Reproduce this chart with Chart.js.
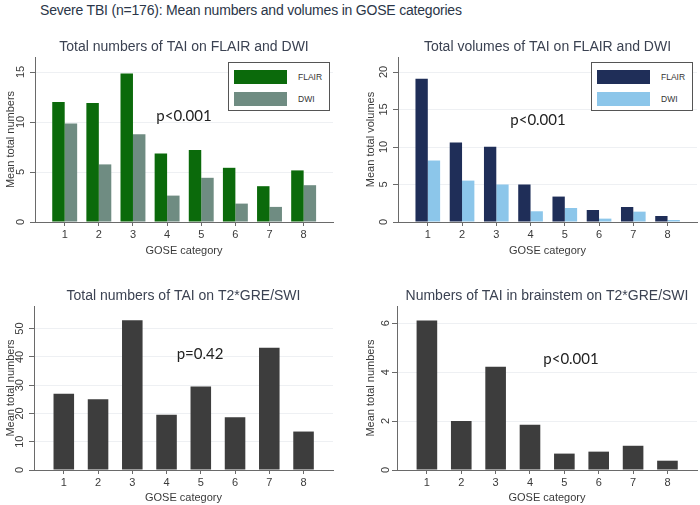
<!DOCTYPE html>
<html>
<head>
<meta charset="utf-8">
<script src="https://cdn.jsdelivr.net/npm/chart.js@4/dist/chart.umd.min.js"></script>
<style>
  body { margin: 0; background: #fff; }
  #wrap { position: relative; width: 700px; height: 505px; overflow: hidden; font-family: "Liberation Sans", Arial, sans-serif; }
  .cv { position: absolute; }
  #main { position: absolute; left: 40px; top: 2px; font-size: 14px; letter-spacing: -0.2px; color: #2b3648; white-space: nowrap; }
  .pv { position: absolute; font-family: Lato, sans-serif; font-size: 15px; color: #222; transform: translate(-50%, -50%); white-space: nowrap; }
  .lg { position: absolute; border: 1px solid #555; background: #fff; box-sizing: border-box; width: 102px; height: 49px; }
  .sw { position: absolute; left: 5px; width: 53px; height: 13.5px; }
  .lt { position: absolute; left: 69px; font-size: 8.5px; color: #333; transform: translateY(-50%); }
</style>
</head>
<body>
<div id="wrap">
  <div id="main">Severe TBI (n=176): Mean numbers and volumes in GOSE categories</div>
  <canvas id="c1" class="cv" style="left:0;top:30px"></canvas>
  <canvas id="c2" class="cv" style="left:350px;top:30px"></canvas>
  <canvas id="c3" class="cv" style="left:0;top:270px"></canvas>
  <canvas id="c4" class="cv" style="left:350px;top:270px"></canvas>
  <div class="pv" style="left:184px;top:115px">p&lt;0.001</div>
  <div class="pv" style="left:538px;top:119px">p&lt;0.001</div>
  <div class="pv" style="left:200px;top:353px">p=0.42</div>
  <div class="pv" style="left:571px;top:358px">p&lt;0.001</div>
  <div id="lg1" class="lg" style="left:228px;top:62px"></div>
  <div id="lg2" class="lg" style="left:591px;top:62px"></div>
</div>
<script>
// GOSE categories
let gose = [1, 2, 3, 4, 5, 6, 7, 8];

// total numbers of TAI, FLAIR / DWI
let numFlair = [12.0, 11.9, 14.85, 6.86, 7.2, 5.42, 3.58, 5.16];
let numDwi = [9.84, 5.76, 8.77, 2.64, 4.42, 1.84, 1.51, 3.68];

// total volumes of TAI, FLAIR / DWI
let volFlair = [19.1, 10.6, 10.05, 5.0, 3.39, 1.6, 2.0, 0.8];
let volDwi = [8.2, 5.52, 5.0, 1.43, 1.87, 0.45, 1.38, 0.27];

// T2*GRE/SWI
let numSwi = [26.95, 25.06, 52.96, 19.5, 29.55, 18.68, 43.26, 13.6];
let brainstemSwi = [6.11, 2.0, 4.22, 1.85, 0.67, 0.75, 0.99, 0.38];

let seriesNames = ["FLAIR", "DWI"];
let ticks1 = [0, 5, 10, 15];
let ticks2 = [0, 5, 10, 15, 20];
let ticks3 = [0, 10, 20, 30, 40, 50];
let ticks4 = [0, 2, 4, 6];

let greens = ["#0b6a0b", "#6f8c82"];
let blues = ["#1f2e58", "#8cc6ea"];
let grey = "#3d3d3d";

let fontFam = '"Liberation Sans", Arial, sans-serif';
let axisCol = "#6a6a6a";

function makeChart(id, w, h, area, title, yTitle, yMax, yTicks, datasets, pct){
    let cv = document.getElementById(id);
    cv.width = w; cv.height = h;
    cv.style.width = w + "px"; cv.style.height = h + "px";
    return new Chart(cv, {
        type: "bar",
        data: { labels: gose, datasets: datasets },
        options: {
            responsive: false,
            animation: false,
            layout: { padding: { left: area.padL, right: w - area.r, top: 0, bottom: 0 } },
            datasets: { bar: { categoryPercentage: pct, barPercentage: 1.0 } },
            plugins: { legend: { display: false }, tooltip: { enabled: false } },
            scales: {
                x: {
                    type: "linear", min: 0.13, max: 8.86, offset: false,
                    afterBuildTicks: (s) => { s.ticks = gose.map(v => ({ value: v })); },
                    afterFit: (s) => { s.height = h - area.b; },
                    grid: { drawOnChartArea: false, offset: false, tickLength: 4, tickColor: axisCol },
                    border: { display: true, color: axisCol, width: 1 },
                    ticks: { font: { family: fontFam, size: 11 }, color: "#3a3a3a", padding: 2, maxRotation: 0 },
                    title: { display: true, text: "GOSE category", font: { family: fontFam, size: 11 }, color: "#3a3a3a",
                             padding: { top: 0, bottom: area.xtPad } }
                },
                top: {
                    axis: "x", type: "linear", position: "top", offset: false,
                    afterFit: (s) => { s.height = area.t; },
                    grid: { display: false, drawTicks: false },
                    border: { display: false },
                    ticks: { display: false },
                    title: { display: true, text: title, font: { family: fontFam, size: 14 }, color: "#3b4252",
                             padding: { top: area.ttPad, bottom: 0 } }
                },
                y: {
                    min: 0, max: yMax,
                    afterBuildTicks: (s) => { s.ticks = yTicks.map(v => ({ value: v })); },
                    afterFit: (s) => { s.width = area.l - area.padL; },
                    grid: { color: "#eef0f3", tickLength: 5, tickColor: axisCol },
                    border: { display: true, color: axisCol, width: 1 },
                    ticks: { font: { family: fontFam, size: 11 }, color: "#3a3a3a", padding: 3,
                             minRotation: 90, maxRotation: 90, crossAlign: "center" },
                    title: { display: true, text: yTitle, font: { family: fontFam, size: 11 }, color: "#3a3a3a",
                             padding: { top: area.ytPad, bottom: 0 } }
                }
            }
        }
    });
}

makeChart("c1", 350, 228, { padL: 0, l: 35, t: 27, r: 333, b: 192, ttPad: 8.3, xtPad: 0.8, ytPad: 4 },
    "Total numbers of TAI on FLAIR and DWI", "Mean total numbers", 16.5, ticks1, [
        { label: seriesNames[0], data: numFlair, backgroundColor: greens[0] },
        { label: seriesNames[1], data: numDwi, backgroundColor: greens[1] }
    ], 0.73);

makeChart("c2", 350, 228, { padL: 0, l: 48, t: 27, r: 347, b: 192, ttPad: 8.3, xtPad: 0.8, ytPad: 14 },
    "Total volumes of TAI on FLAIR and DWI", "Mean total volumes", 22, ticks2, [
        { label: seriesNames[0], data: volFlair, backgroundColor: blues[0] },
        { label: seriesNames[1], data: volDwi, backgroundColor: blues[1] }
    ], 0.72);

makeChart("c3", 350, 235, { padL: 0, l: 34, t: 36, r: 333, b: 200, ttPad: 17.3, xtPad: 0.1, ytPad: 4 },
    "Total numbers of TAI on T2*GRE/SWI", "Mean total numbers", 58, ticks3, [
        { label: "T2*GRE/SWI", data: numSwi, backgroundColor: grey }
    ], 0.6);

makeChart("c4", 350, 235, { padL: 0, l: 47, t: 36, r: 347, b: 200, ttPad: 17.3, xtPad: 0.1, ytPad: 14 },
    "Numbers of TAI in brainstem on T2*GRE/SWI", "Mean total numbers", 6.7, ticks4, [
        { label: "Brainstem", data: brainstemSwi, backgroundColor: grey }
    ], 0.6);

// legends built from the series names and colours
function fillLegend(id, cols){
    let box = document.getElementById(id);
    let tops = [7, 29];
    seriesNames.forEach((n, i) => {
        box.innerHTML += `<div class="sw" style="top:${tops[i]}px;background:${cols[i]}"></div>
            <div class="lt" style="top:${tops[i] + 7}px">${n}</div>`;
    });
}
fillLegend("lg1", greens);
fillLegend("lg2", blues);
</script>
</body>
</html>
